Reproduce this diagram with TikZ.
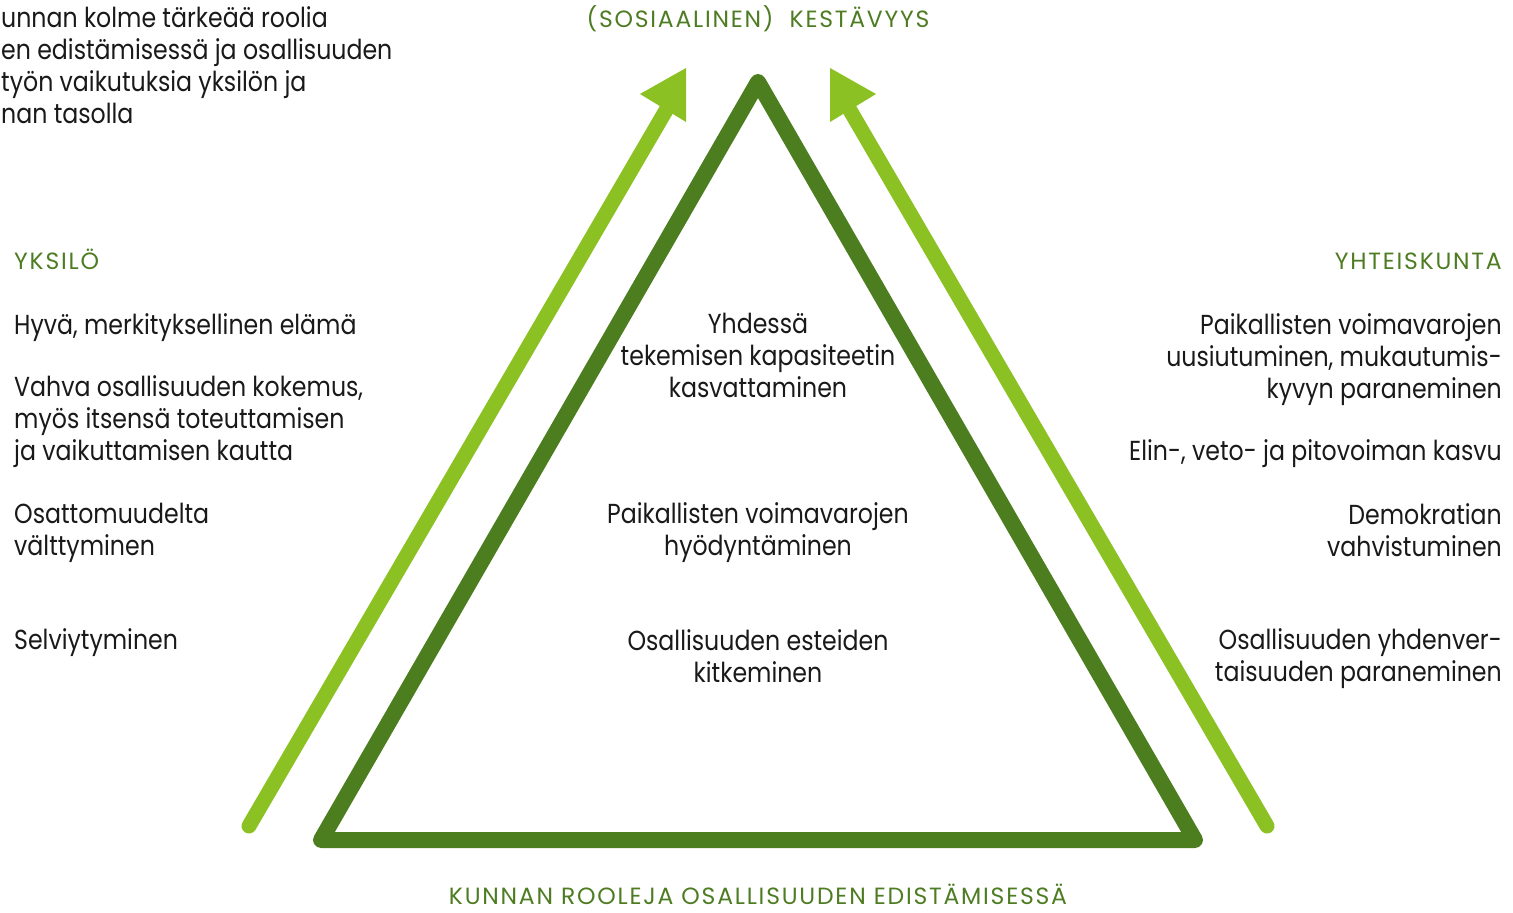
\documentclass[tikz,border=0pt]{standalone}
\usepackage{fontspec}
\setmainfont{Poppins}[FakeStretch=0.86]
\newfontfamily\headfont{Poppins}[LetterSpace=7.5]
\usetikzlibrary{calc, positioning}
\definecolor{darkleaf}{RGB}{76,125,30}
\definecolor{lightleaf}{RGB}{140,193,35}
\definecolor{leaftext}{RGB}{78,124,34}
\tikzset{
	persp/.style={x=1pt,y=-1pt},
	triangle/.style={draw=darkleaf, line width=16pt, line join=round, line cap=round},
	shaft/.style={draw=lightleaf, line width=15pt, line cap=round},
	head/.style={fill=lightleaf},
	heading/.style={text=leaftext, inner sep=0pt, text depth=0pt, font=\headfont\fontsize{23.5}{30}\selectfont},
	body/.style={text=black!90, inner sep=0pt, font=\fontsize{27.5}{32}\selectfont}
}
\begin{document}
\begin{tikzpicture}[persp]
	\useasboundingbox (0,0) rectangle (1513,913);

	\coordinate	(apex)	at (758,82);
	\coordinate	(lcorner)	at (321,840);
	\coordinate	(rcorner)	at (1195,840);
	\coordinate	(lfoot)	at (249,826);
	\coordinate	(ltip)	at (672,100);
	\coordinate	(rfoot)	at (1267,826);
	\coordinate	(rtip)	at (844,100);

	% arrows
	\foreach \s in {l,r} { \draw[shaft] (\s foot)--(\s tip); }
	\fill[head] (640,94)--(686,68)--(686,122)--cycle;
	\fill[head] (876,94)--(830,68)--(830,122)--cycle;

	\draw[triangle] (apex)--(lcorner)--(rcorner)--cycle;

	% texts
	\node[body, anchor=north west, align=left] (intro) at (1,6) {unnan kolme tärkeää roolia\\en edistämisessä ja osallisuuden\\työn vaikutuksia yksilön ja\\nan tasolla};
	\node[heading, anchor=base] (goal) at (758,27) {(SOSIAALINEN)\ \ KESTÄVYYS};
	\node[heading, anchor=base] (roles) at (758,904) {KUNNAN ROOLEJA OSALLISUUDEN EDISTÄMISESSÄ};

	\node[heading, anchor=base west] (person) at (14,269) {YKSILÖ};
	\node[body, anchor=north west, align=left] (p1) at (14,313) {Hyvä, merkityksellinen elämä};
	\node[body, anchor=north west, align=left] (p2) at (14,375) {Vahva osallisuuden kokemus,\\myös itsensä toteuttamisen\\ja vaikuttamisen kautta};
	\node[body, anchor=north west, align=left] (p3) at (14,503) {Osattomuudelta\\välttyminen};
	\node[body, anchor=north west, align=left] (p4) at (14,628) {Selviytyminen};

	\node[heading, anchor=base east] (society) at (1502,269) {YHTEISKUNTA};
	\node[body, anchor=north east, align=right] (s1) at (1502,313) {Paikallisten voimavarojen\\uusiutuminen, mukautumis-\\kyvyn paraneminen};
	\node[body, anchor=north east, align=right] (s2) at (1502,439) {Elin-, veto- ja pitovoiman kasvu};
	\node[body, anchor=north east, align=right] (s3) at (1502,503) {Demokratian\\vahvistuminen};
	\node[body, anchor=north east, align=right] (s4) at (1502,628) {Osallisuuden yhdenver-\\taisuuden paraneminen};

	\node[body, anchor=north, align=center] (c1) at (758,313) {Yhdessä\\tekemisen kapasiteetin\\kasvattaminen};
	\node[body, anchor=north, align=center] (c2) at (758,502) {Paikallisten voimavarojen\\hyödyntäminen};
	\node[body, anchor=north, align=center] (c3) at (758,629) {Osallisuuden esteiden\\kitkeminen};
\end{tikzpicture}
\end{document}
